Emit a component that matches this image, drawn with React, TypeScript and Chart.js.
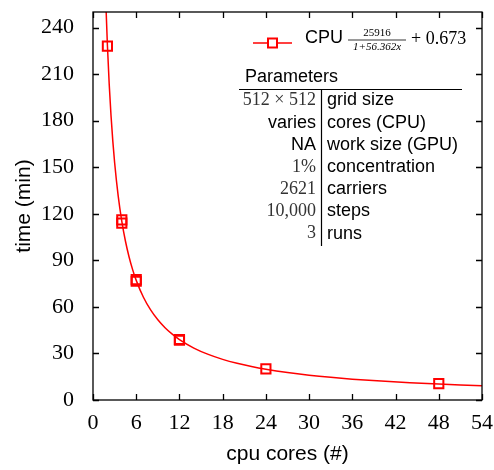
import React, { useEffect, useRef } from "react";
import { Chart, registerables } from "chart.js";

Chart.register(...registerables);

// Measured runtimes (minutes) per CPU core count, repeated runs included
const coreCounts = [2, 4, 4, 6, 6, 12, 12, 24, 48];
const runtimes = [228, 114, 116, 76.5, 77.5, 38.5, 39, 20, 10.5];

// Fit parameters shown in the legend: a / (1 + b x) + c
const fitA = 25916;
const fitB = 56.362;
const fitC = 0.673;
const fitXs = [1.6, 1.8, 2, 2.25, 2.5, 2.75, 3, 3.5, 4, 4.5, 5, 5.5, 6, 7, 8, 9, 10, 11, 12, 14, 16, 18, 20, 22, 24, 27, 30, 33, 36, 40, 44, 48, 51, 54];

const xTicks = [0, 6, 12, 18, 24, 30, 36, 42, 48, 54];
const yTicks = [0, 30, 60, 90, 120, 150, 180, 210, 240];

// Parameter table rows: value, description, value drawn in math font
const paramValues = ["512 × 512", "varies", "NA", "1%", "2621", "10,000", "3"];
const paramNames = ["grid size", "cores (CPU)", "work size (GPU)", "concentration", "carriers", "steps", "runs"];
const paramIsMath = [true, false, false, true, true, true, true];

const SANS = "'Liberation Sans', Arial, sans-serif";
const SERIF = "'Liberation Serif', 'DejaVu Serif', serif";
const RED = "#ff0000";

const framePlugin = {
  id: "frame",
  afterDraw(chart: any) {
    const { ctx, chartArea: a, scales } = chart;
    const xs = scales.x;
    const ys = scales.y;
    ctx.save();
    ctx.strokeStyle = "#000";
    ctx.lineWidth = 1.3;
    ctx.strokeRect(a.left, a.top, a.right - a.left, a.bottom - a.top);
    const tl = 6;
    ctx.beginPath();
    xTicks.forEach((v) => {
      const px = Math.round(xs.getPixelForValue(v)) + 0.5;
      ctx.moveTo(px, a.bottom);
      ctx.lineTo(px, a.bottom - tl);
      ctx.moveTo(px, a.top);
      ctx.lineTo(px, a.top + tl);
    });
    yTicks.forEach((v) => {
      const py = Math.round(ys.getPixelForValue(v)) + 0.5;
      ctx.moveTo(a.left, py);
      ctx.lineTo(a.left + tl, py);
      ctx.moveTo(a.right, py);
      ctx.lineTo(a.right - tl, py);
    });
    ctx.stroke();

    // Legend entry with the fit formula
    const ly = 43;
    ctx.strokeStyle = RED;
    ctx.lineWidth = 1.5;
    ctx.beginPath();
    ctx.moveTo(253, ly);
    ctx.lineTo(292, ly);
    ctx.stroke();
    ctx.fillStyle = "#fff";
    ctx.fillRect(268, ly - 4.5, 9, 9);
    ctx.lineWidth = 2;
    ctx.strokeRect(268, ly - 4.5, 9, 9);

    ctx.fillStyle = "#000";
    ctx.textBaseline = "middle";
    ctx.textAlign = "left";
    ctx.font = `18px ${SANS}`;
    ctx.fillText("CPU", 305, 38);
    ctx.textAlign = "center";
    ctx.font = `11px ${SERIF}`;
    ctx.fillText(String(fitA), 377, 33);
    ctx.font = `italic 11px ${SERIF}`;
    ctx.fillText(`1+${fitB}x`, 377, 47);
    ctx.lineWidth = 0.8;
    ctx.strokeStyle = "#000";
    ctx.beginPath();
    ctx.moveTo(348, 40);
    ctx.lineTo(406, 40);
    ctx.stroke();
    ctx.textAlign = "left";
    ctx.font = `18px ${SERIF}`;
    ctx.fillText(`+ ${fitC}`, 411, 39);

    // Parameters table
    ctx.font = `18px ${SANS}`;
    ctx.fillText("Parameters", 245, 77);
    ctx.lineWidth = 1.2;
    ctx.beginPath();
    ctx.moveTo(239, 89.5);
    ctx.lineTo(462, 89.5);
    ctx.moveTo(321.5, 89.5);
    ctx.lineTo(321.5, 246);
    ctx.stroke();
    paramNames.forEach((name, i) => {
      const y = 100.5 + i * 22.2;
      ctx.textAlign = "right";
      if (paramIsMath[i]) {
        ctx.font = `18px ${SERIF}`;
        ctx.fillStyle = "#333";
      } else {
        ctx.font = `18px ${SANS}`;
        ctx.fillStyle = "#000";
      }
      ctx.fillText(paramValues[i], 316, y);
      ctx.textAlign = "left";
      ctx.font = `18px ${SANS}`;
      ctx.fillStyle = "#000";
      ctx.fillText(name, 327, y);
    });
    ctx.restore();
  },
};

export default function App() {
  const ref = useRef<HTMLCanvasElement>(null);
  useEffect(() => {
    document.body.style.margin = "0";
    const fit = fitXs.map((x) => ({ x, y: fitA / (1 + fitB * x) + fitC }));
    const pts = coreCounts.map((x, i) => ({ x, y: runtimes[i] }));
    const chart = new Chart(ref.current!, {
      type: "scatter",
      data: {
        datasets: [
          {
            label: "fit",
            data: fit,
            showLine: true,
            borderColor: RED,
            borderWidth: 1.5,
            pointRadius: 0,
            cubicInterpolationMode: "monotone",
            fill: false,
          } as any,
          {
            label: "CPU",
            data: pts,
            showLine: false,
            borderColor: RED,
            backgroundColor: "rgba(255,255,255,0)",
            pointStyle: "rect",
            pointRadius: 6.5,
            borderWidth: 2,
          } as any,
        ],
      },
      options: {
        animation: false,
        responsive: false,
        layout: { padding: { left: 0, right: 12, top: 12, bottom: 0 } },
        plugins: { legend: { display: false }, tooltip: { enabled: false } },
        scales: {
          x: {
            type: "linear",
            min: 0,
            max: 54,
            grid: { display: false },
            border: { display: false },
            afterBuildTicks: (s: any) => {
              s.ticks = xTicks.map((v) => ({ value: v }));
            },
            afterFit: (s: any) => {
              s.height = 70;
              s.paddingLeft = 0;
              s.paddingRight = 0;
            },
            ticks: {
              color: "#000",
              font: { family: SERIF, size: 22 },
              padding: 2,
              maxRotation: 0,
            },
            title: {
              display: true,
              text: "cpu cores (#)",
              color: "#000",
              font: { family: SANS, size: 21 },
              padding: { top: 6, bottom: 3 },
            },
          },
          y: {
            type: "linear",
            min: 0,
            max: 250,
            grid: { display: false },
            border: { display: false },
            afterBuildTicks: (s: any) => {
              s.ticks = yTicks.map((v) => ({ value: v }));
            },
            afterFit: (s: any) => {
              s.width = 93;
              s.paddingTop = 0;
              s.paddingBottom = 0;
            },
            ticks: {
              color: "#000",
              font: { family: SERIF, size: 22 },
              padding: 11,
            },
            title: {
              display: true,
              text: "time (min)",
              color: "#000",
              font: { family: SANS, size: 21 },
              padding: { top: 12, bottom: 4 },
            },
          },
        },
      },
      plugins: [framePlugin],
    });
    return () => chart.destroy();
  }, []);
  return (
    <div style={{ width: 494, height: 470, background: "#fff" }}>
      <canvas ref={ref} width={494} height={470} style={{ display: "block" }} />
    </div>
  );
}
